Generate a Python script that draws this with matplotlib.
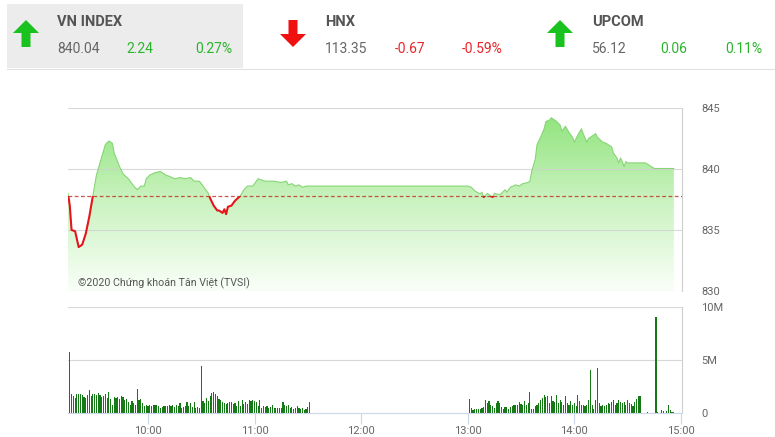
import numpy as np
import matplotlib
matplotlib.use("Agg")
import matplotlib.pyplot as plt
from matplotlib.patches import Polygon, Rectangle
from matplotlib.colors import LinearSegmentedColormap

# ---------------- data ----------------
ref_price = 837.80

price_times = ["09:15", "09:16", "09:17", "09:19", "09:21", "09:23", "09:25", "09:26", "09:27", "09:29",
               "09:31", "09:34", "09:36", "09:38", "09:40", "09:41", "09:44", "09:46", "09:49", "09:52",
               "09:54", "09:56", "09:58", "09:59", "10:01", "10:04", "10:07", "10:10", "10:12", "10:15",
               "10:18", "10:21", "10:24", "10:26", "10:29", "10:31", "10:34", "10:35", "10:37", "10:39",
               "10:40", "10:42", "10:43", "10:44", "10:45", "10:47", "10:49", "10:52", "10:54", "10:56",
               "10:59", "11:02", "11:04", "11:06", "11:09", "11:11", "11:15", "11:18", "11:19", "11:21",
               "11:23", "11:25", "11:27", "11:29", "11:30",
               "13:00", "13:02", "13:04", "13:07", "13:08", "13:09", "13:11", "13:12", "13:14", "13:15",
               "13:18", "13:19", "13:21", "13:22", "13:24", "13:27", "13:29", "13:31", "13:34", "13:35",
               "13:36", "13:38", "13:39", "13:41", "13:43", "13:44", "13:46", "13:47", "13:49", "13:50",
               "13:52", "13:53", "13:54", "13:55", "13:57", "13:59", "14:00", "14:02", "14:04", "14:05",
               "14:07", "14:08", "14:10", "14:12", "14:13", "14:16", "14:18", "14:20", "14:21", "14:22",
               "14:24", "14:25", "14:26", "14:27", "14:28", "14:29", "14:30", "14:40", "14:45", "14:56"]
price_values = [838.0, 837.0, 835.0, 834.9, 833.6, 833.8, 834.7, 835.4, 836.1, 837.8,
                839.5, 841.0, 842.0, 842.3, 842.1, 841.3, 840.2, 839.6, 839.2, 838.6,
                838.3, 838.6, 838.6, 839.2, 839.5, 839.7, 839.8, 839.5, 839.4, 839.2,
                839.3, 839.2, 839.3, 839.0, 839.0, 838.6, 838.0, 837.6, 837.0, 836.6,
                836.6, 836.4, 836.7, 836.3, 836.9, 837.0, 837.4, 837.8, 838.3, 838.6,
                838.6, 839.2, 839.1, 839.0, 839.0, 839.0, 838.9, 839.0, 838.7, 838.8,
                838.6, 838.7, 838.5, 838.6, 838.6,
                838.6, 838.5, 838.2, 837.95, 838.1, 837.7, 838.0, 837.9, 837.7, 838.0,
                837.9, 838.0, 838.3, 838.1, 838.5, 838.7, 838.6, 838.8, 838.9, 839.0,
                839.8, 840.8, 842.0, 842.6, 843.3, 843.9, 844.0, 844.2, 844.0, 843.9,
                843.6, 843.1, 843.3, 843.5, 843.0, 842.6, 842.2, 842.8, 843.3, 842.9,
                842.2, 842.5, 842.7, 842.9, 842.6, 842.2, 842.1, 841.9, 841.8, 841.3,
                840.9, 840.5, 840.9, 840.6, 840.2, 840.6, 840.5, 840.5, 840.04, 840.04]

# volume (millions), one bar per minute
vol_morning_start = "09:15"
vol_morning = [5.75, 1.8, 1.6, 1.4, 1.8, 1.8, 1.8, 1.7, 1.5, 1.4,
               1.7, 2.2, 1.6, 1.8, 1.8, 1.7, 1.9, 1.7, 1.5, 1.6,
               1.8, 1.4, 2.0, 1.3, 0.8, 1.5, 1.4, 1.5, 1.3, 1.6,
               1.5, 1.2, 1.3, 1.0, 0.8, 1.1, 0.95, 0.8, 2.3, 1.2,
               1.3, 0.9, 0.7, 0.8, 0.7, 0.75, 0.7, 0.75, 0.8, 0.75,
               0.65, 0.5, 0.6, 0.65, 0.7, 0.65, 0.8, 0.7, 0.75, 0.6,
               0.8, 0.7, 0.95, 0.5, 0.6, 0.65, 1.04, 0.65, 0.95, 0.6,
               1.04, 0.5, 0.55, 0.5, 4.46, 1.16, 0.9, 1.4, 1.1, 1.56,
               1.9, 1.95, 1.8, 1.56, 1.3, 1.2, 1.05, 0.95, 0.85, 0.95,
               1.0, 1.05, 0.85, 0.95, 0.7, 1.1, 0.7, 1.25, 0.85, 1.0,
               0.85, 1.25, 1.1, 1.2, 1.1, 1.0, 0.7, 1.2, 0.5, 0.7,
               0.6, 0.7, 0.5, 0.6, 0.75, 0.5, 0.5, 0.5, 0.5, 0.5,
               1.05, 0.8, 0.7, 0.75, 0.5, 0.6, 0.4, 0.5, 0.7, 0.5,
               0.4, 0.5, 0.3, 0.4, 0.6, 1.05]
vol_afternoon_start = "13:00"
vol_afternoon = [1.35, 0.47, 0.3, 0.4, 0.4, 0.38, 0.4, 0.47, 0.55, 1.26,
                 0.94, 1.16, 0.79, 0.63, 0.47, 0.94, 1.1, 0.94, 0.57, 0.4,
                 0.57, 0.53, 0.4, 0.57, 0.7, 0.79, 0.79, 0.79, 1.0, 0.88,
                 0.79, 1.1, 0.79, 0.94, 1.98, 0.4, 0.4, 0.63, 0.79, 0.94,
                 1.26, 1.4, 1.73, 1.48, 1.57, 0.94, 1.63, 1.1, 1.0, 1.67,
                 0.94, 1.26, 1.0, 0.79, 1.63, 0.94, 0.79, 1.1, 0.79, 0.94,
                 0.7, 1.67, 1.16, 0.79, 0.79, 0.7, 0.79, 1.26, 4.1, 0.79,
                 0.38, 1.26, 4.2, 0.94, 0.7, 0.79, 0.63, 0.79, 0.94, 0.88,
                 1.0, 1.26, 0.79, 0.94, 1.26, 1.0, 0.94, 1.0, 0.79, 1.26,
                 0.94, 0.88, 0.63, 1.0, 1.35, 1.63, 1.63]
vol_late_times = ["14:40", "14:45", "14:46", "14:48", "14:49", "14:51", "14:52", "14:53", "14:54", "14:55"]
vol_late = [0.05, 9.05, 0.1, 0.25, 0.15, 0.15, 0.8, 0.25, 0.1, 0.1]

price_ticks = [830, 835, 840, 845]
vol_ticks = [0, 5, 10]
vol_tick_labels = ["0", "5M", "10M"]
time_ticks = ["10:00", "11:00", "12:00", "13:00", "14:00", "15:00"]

header = [
    # name, value, change, pct, up?
    ("VN INDEX", "840.04", "2.24", "0.27%", True),
    ("HNX", "113.35", "-0.67", "-0.59%", False),
    ("UPCOM", "56.12", "0.06", "0.11%", True),
]

# ---------------- helpers ----------------
T0 = 9 * 60 + 15


def tmin(s):
    h, m = s.split(":")
    return int(h) * 60 + int(m) - T0


W, H = 775, 437
fig = plt.figure(figsize=(W / 100, H / 100), dpi=100)
fig.patch.set_facecolor("white")


def fx(x):
    return x / W


def fy(y):
    return 1 - y / H


XMAX = 345.6
FONT = ["Roboto", "DejaVu Sans"]
LABEL = "#666666"

# ---------------- price axes ----------------
axp = fig.add_axes([fx(68), fy(291), fx(682) - fx(68), fy(108) - fy(291)])
axp.set_xlim(0, XMAX)
axp.set_ylim(830, 845)
t = np.array([tmin(s) for s in price_times], dtype=float)
v = np.array(price_values)

verts = [(t[0], 830)] + list(zip(t, v)) + [(t[-1], 830)]
poly = Polygon(verts, closed=True, facecolor="none", edgecolor="none")
axp.add_patch(poly)
cmap = LinearSegmentedColormap.from_list(
    "g", [(0.98, 1.0, 0.975), (0.79, 0.95, 0.75), (0.55, 0.89, 0.47)])
grad = np.linspace(0, 1, 256).reshape(-1, 1)
im = axp.imshow(grad, extent=[0, XMAX, 830, 845], origin="lower", cmap=cmap,
                aspect="auto", zorder=1, interpolation="bilinear")
im.set_clip_path(poly)

for yv in price_ticks:
    axp.axhline(yv, color="#d0d0d0", lw=0.8, zorder=2, alpha=0.8)

gl, = axp.plot(t, v, color="#86d675", lw=0.8, zorder=3)
gl.set_clip_path(Rectangle((0, ref_price), XMAX, 845 - ref_price, transform=axp.transData))
rl, = axp.plot(t, v, color="#e4161b", lw=1.5, zorder=4)
rl.set_clip_path(Rectangle((0, 830), XMAX, ref_price - 830, transform=axp.transData))

axp.axhline(ref_price, color="#c0392b", lw=0.9, ls=(0, (3, 2)), zorder=5, alpha=0.85)

axp.text(fx(78), fy(283), "©2020 Chứng khoán Tân Việt (TVSI)", transform=fig.transFigure,
         fontsize=7.7, color="#555555", family=FONT, va="center", ha="left", zorder=6)

for s in ["top", "left", "bottom"]:
    axp.spines[s].set_visible(False)
axp.spines["right"].set_color("#cfcfcf")
axp.spines["right"].set_linewidth(0.8)
axp.set_xticks([])
axp.yaxis.tick_right()
axp.set_yticks(price_ticks)
axp.set_yticklabels([str(p) for p in price_ticks], family=FONT, fontsize=8, color=LABEL)
axp.tick_params(axis="y", length=0, pad=14)

# ---------------- volume axes ----------------
axv = fig.add_axes([fx(68), fy(413), fx(682) - fx(68), fy(307) - fy(413)])
axv.set_xlim(0, XMAX)
axv.set_ylim(0, 10)
for yv in vol_ticks[1:]:
    axv.axhline(yv, color="#d8d8d8", lw=0.8, zorder=1)

BW = 0.65
OFF = 1.0
xm = np.arange(len(vol_morning)) + tmin(vol_morning_start) + OFF
axv.bar(xm, vol_morning, width=BW, color="#157a15", zorder=2, linewidth=0)
xa = np.arange(len(vol_afternoon)) + tmin(vol_afternoon_start) + OFF
axv.bar(xa, vol_afternoon, width=BW, color="#157a15", zorder=2, linewidth=0)
xl = np.array([tmin(s) for s in vol_late_times]) + OFF
axv.bar(xl, vol_late, width=BW, color="#157a15", zorder=2, linewidth=0)

for s in ["top", "left"]:
    axv.spines[s].set_visible(False)
axv.spines["right"].set_color("#cfcfcf")
axv.spines["right"].set_linewidth(0.8)
axv.spines["bottom"].set_color("#ccd6eb")
axv.spines["bottom"].set_linewidth(0.8)
axv.yaxis.tick_right()
axv.set_yticks(vol_ticks)
axv.set_yticklabels(vol_tick_labels, family=FONT, fontsize=8, color=LABEL)
axv.tick_params(axis="y", length=0, pad=14)
axv.set_xticks([tmin(s) for s in time_ticks])
axv.set_xticklabels(time_ticks, family=FONT, fontsize=8, color=LABEL)
axv.tick_params(axis="x", length=8, width=0.8, color="#ccd6eb", pad=1)

# ---------------- header ----------------
fig.patches.append(Rectangle((fx(7), fy(68)), fx(243) - fx(7), fy(4) - fy(68),
                             transform=fig.transFigure, facecolor="#ececec", edgecolor="none", zorder=0))
fig.lines.append(matplotlib.lines.Line2D([fx(7), fx(775)], [fy(68.5), fy(68.5)],
                                         transform=fig.transFigure, color="#e2e2e2", lw=0.8))

GREEN_T = "#2bb52b"
RED_T = "#e8262b"
GREEN_A = "#19c21e"
RED_A = "#f01010"


def arrow(cx, up, color):
    hw, sw, top, bot, hh = 13, 4.5, 20, 47, 13
    if up:
        pts = [(cx, top), (cx + hw, top + hh), (cx + sw, top + hh), (cx + sw, bot),
               (cx - sw, bot), (cx - sw, top + hh), (cx - hw, top + hh)]
    else:
        pts = [(cx, bot), (cx + hw, bot - hh), (cx + sw, bot - hh), (cx + sw, top),
               (cx - sw, top), (cx - sw, bot - hh), (cx - hw, bot - hh)]
    fig.patches.append(Polygon([(fx(a), fy(b)) for a, b in pts], closed=True,
                               transform=fig.transFigure, facecolor=color, edgecolor="none"))


cols = [(26, 57, 126, 195), (293, 325, 395, 462), (560, 592, 660, 725)]
for (name, val, chg, pct, up), (ax_, xn, xc, xp) in zip(header, cols):
    arrow(ax_, up, GREEN_A if up else RED_A)
    c = GREEN_T if up else RED_T
    fig.text(fx(xn), fy(22), name, fontsize=10.5, fontweight="bold", color="#555555",
             family=FONT, va="center", ha="left")
    fig.text(fx(xn), fy(49), val, fontsize=10, color="#666666", family=FONT, va="center", ha="left")
    fig.text(fx(xc), fy(49), chg, fontsize=10, color=c, family=FONT, va="center", ha="left")
    fig.text(fx(xp), fy(49), pct, fontsize=10, color=c, family=FONT, va="center", ha="left")

fig.savefig("out.png", dpi=100, facecolor="white")
